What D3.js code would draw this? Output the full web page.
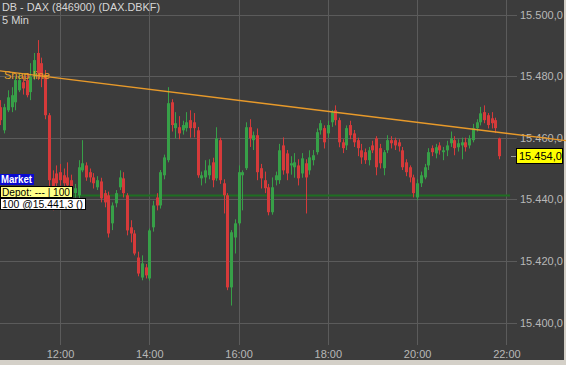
<!DOCTYPE html>
<html>
<head>
<meta charset="utf-8">
<script src="https://cdn.jsdelivr.net/npm/d3@7"></script>
<style>
  body { margin: 0; background: #d4d0c8; }
  svg { display: block; }
</style>
</head>
<body>
<div id="chart"></div>
<script>
const title = 'DB - DAX (846900) (DAX.DBKF)';
const interval = '5 Min';
const firstBar = '10:40';          // 5 minute bars
const barMinutes = 5;

const opens = [15469.9, 15462.4, 15468.9, 15469.9, 15471.5, 15475.4, 15478.0, 15478.7, 15474.8, 15479.7,
  15487.5, 15484.2, 15480.3, 15467.3, 15446.8, 15448.4, 15448.8, 15447.8, 15447.1, 15446.2,
  15442.0, 15441.3, 15449.4, 15451.0, 15448.8, 15447.1, 15443.9, 15445.8, 15442.0, 15441.3,
  15432.2, 15438.7, 15443.9, 15446.8, 15441.3, 15430.9, 15428.9, 15421.1, 15414.6, 15417.9,
  15414.3, 15430.9, 15440.6, 15438.0, 15447.8, 15452.7, 15471.5, 15463.1, 15463.4, 15462.4,
  15463.1, 15465.7, 15465.0, 15462.4, 15446.8, 15447.1, 15447.8, 15452.0, 15446.8, 15459.2,
  15445.2, 15441.3, 15411.4, 15427.6, 15432.2, 15447.8, 15450.1, 15463.4, 15459.2, 15460.8,
  15450.1, 15446.2, 15443.9, 15435.8, 15446.2, 15446.2, 15457.5, 15454.9, 15451.0, 15450.4,
  15451.0, 15448.4, 15451.7, 15449.4, 15452.7, 15455.3, 15462.4, 15463.1, 15461.4, 15465.0,
  15468.9, 15465.7, 15458.5, 15457.5, 15464.1, 15461.4, 15459.2, 15455.9, 15455.3, 15452.7,
  15457.5, 15459.8, 15456.6, 15450.1, 15455.9, 15459.2, 15459.2, 15458.5, 15455.9, 15452.0,
  15450.4, 15447.1, 15440.6, 15445.2, 15447.1, 15451.0, 15456.6, 15454.9, 15457.5, 15455.3,
  15455.9, 15458.2, 15459.2, 15456.9, 15457.5, 15458.5, 15457.5, 15459.2, 15463.1, 15465.0,
  15468.3, 15467.3, 15466.3, 15465.7, 15459.8];
const highs = [15472.2, 15471.0, 15475.4, 15476.4, 15479.7, 15481.0, 15480.0, 15481.0, 15484.2, 15487.5,
  15491.7, 15486.0, 15482.0, 15468.0, 15449.4, 15451.0, 15451.5, 15450.0, 15452.0, 15448.0,
  15445.0, 15452.7, 15459.2, 15452.0, 15450.0, 15448.5, 15447.5, 15447.0, 15443.0, 15442.5,
  15439.0, 15443.0, 15449.4, 15448.8, 15442.0, 15433.2, 15430.0, 15423.0, 15421.8, 15419.0,
  15430.5, 15439.5, 15442.0, 15449.5, 15454.5, 15476.4, 15472.5, 15468.3, 15467.0, 15465.5,
  15468.3, 15468.9, 15468.0, 15463.5, 15449.0, 15452.7, 15453.0, 15453.5, 15463.4, 15460.0,
  15446.5, 15442.0, 15430.0, 15433.5, 15451.0, 15449.4, 15465.0, 15466.0, 15462.0, 15463.0,
  15451.5, 15449.0, 15445.0, 15447.1, 15449.0, 15458.0, 15460.1, 15456.0, 15454.0, 15455.0,
  15453.0, 15455.0, 15453.0, 15455.9, 15456.0, 15463.0, 15465.7, 15464.0, 15465.5, 15469.0,
  15470.5, 15466.5, 15459.5, 15464.0, 15465.5, 15462.5, 15460.0, 15458.0, 15456.5, 15457.0,
  15459.0, 15460.5, 15458.0, 15456.0, 15460.8, 15460.5, 15460.0, 15459.5, 15457.0, 15453.0,
  15451.0, 15448.0, 15446.5, 15449.0, 15451.5, 15456.6, 15457.5, 15458.0, 15458.5, 15457.0,
  15459.0, 15462.0, 15460.5, 15459.5, 15460.0, 15460.0, 15460.8, 15464.5, 15466.0, 15470.0,
  15470.5, 15468.0, 15468.3, 15466.5, 15460.0];
const lows = [15464.1, 15461.4, 15468.3, 15468.3, 15468.9, 15474.8, 15474.0, 15473.1, 15472.2, 15478.7,
  15478.7, 15476.4, 15466.0, 15444.0, 15436.4, 15442.9, 15444.5, 15443.9, 15443.0, 15439.7,
  15440.5, 15440.3, 15448.8, 15446.0, 15445.5, 15443.5, 15443.0, 15439.0, 15437.4, 15427.6,
  15430.0, 15437.4, 15443.0, 15440.6, 15428.3, 15426.0, 15421.8, 15415.0, 15413.7, 15414.3,
  15413.6, 15429.5, 15436.4, 15437.0, 15446.5, 15452.0, 15462.0, 15459.8, 15459.5, 15461.0,
  15462.0, 15460.0, 15460.1, 15447.0, 15444.5, 15445.2, 15446.5, 15443.9, 15446.0, 15445.0,
  15435.4, 15410.5, 15405.5, 15422.4, 15431.5, 15436.4, 15449.5, 15457.0, 15456.0, 15446.2,
  15443.5, 15442.0, 15434.8, 15435.0, 15444.5, 15445.0, 15448.0, 15446.2, 15448.0, 15447.0,
  15444.5, 15447.0, 15435.4, 15448.0, 15451.0, 15454.5, 15461.0, 15456.5, 15460.0, 15463.5,
  15464.0, 15456.9, 15455.0, 15456.0, 15459.5, 15457.0, 15454.0, 15451.5, 15451.5, 15451.0,
  15455.0, 15447.8, 15450.0, 15447.8, 15455.0, 15456.5, 15456.0, 15455.5, 15449.5, 15447.5,
  15445.5, 15440.6, 15439.7, 15444.0, 15446.5, 15449.5, 15454.0, 15453.3, 15454.5, 15452.7,
  15454.0, 15457.0, 15454.3, 15455.5, 15453.0, 15455.5, 15456.5, 15458.5, 15462.0, 15464.0,
  15464.7, 15463.0, 15463.0, 15461.5, 15453.0];
const closes = [15465.7, 15469.9, 15473.1, 15473.8, 15478.7, 15478.7, 15476.0, 15473.8, 15479.7, 15485.2,
  15481.0, 15479.7, 15467.3, 15446.2, 15439.7, 15445.2, 15446.2, 15445.2, 15444.5, 15442.0,
  15443.6, 15450.4, 15451.7, 15447.1, 15447.1, 15445.2, 15446.2, 15440.3, 15439.0, 15428.9,
  15438.0, 15442.0, 15447.1, 15442.0, 15429.9, 15428.9, 15422.4, 15415.9, 15419.2, 15415.3,
  15429.9, 15438.0, 15438.0, 15448.8, 15453.6, 15471.2, 15464.1, 15464.7, 15461.4, 15464.1,
  15465.0, 15463.1, 15463.1, 15447.8, 15447.8, 15449.4, 15451.0, 15446.2, 15459.8, 15446.2,
  15441.3, 15411.4, 15429.3, 15432.2, 15448.8, 15448.8, 15463.4, 15459.8, 15460.8, 15448.8,
  15446.8, 15443.6, 15435.8, 15443.9, 15447.8, 15455.9, 15449.4, 15448.4, 15451.7, 15452.0,
  15446.8, 15453.3, 15447.1, 15453.6, 15454.3, 15461.8, 15464.7, 15458.5, 15464.1, 15468.3,
  15465.7, 15458.5, 15456.6, 15463.1, 15460.8, 15458.5, 15456.6, 15453.6, 15452.7, 15455.9,
  15455.9, 15450.4, 15451.7, 15455.3, 15459.2, 15458.2, 15457.5, 15457.2, 15450.4, 15448.8,
  15447.1, 15442.0, 15445.2, 15447.8, 15450.4, 15455.3, 15455.3, 15456.9, 15455.9, 15455.9,
  15457.5, 15459.8, 15456.6, 15458.2, 15458.5, 15456.9, 15459.8, 15463.1, 15465.0, 15467.9,
  15465.7, 15464.1, 15464.7, 15463.1, 15454.0];

const priceTicks = [15400, 15420, 15440, 15460, 15480, 15500];
const timeTicks = ['12:00', '14:00', '16:00', '18:00', '20:00', '22:00'];
const lastPrice = 15454.0;
const entryPrice = 15441.3;
const positionSize = 100;
// snap line: two anchor points (time, price)
const snapTimes = ['10:35', '23:25'];
const snapPrices = [15481.8, 15458.9];

const width = 566;
const height = 365;
const plotRight = 564;
const plotBottom = 360;
const gridRight = 517;
const axisY = 345;

const bg = '#3c3c3c';
const gridColor = '#5b5b5b';
const textColor = '#b8b8b8';
const upColor = '#37a048';
const downColor = '#d63a3a';

const parseTime = d3.timeParse('%H:%M');
const de = d3.formatLocale({ decimal: ',', thousands: '.', grouping: [3], currency: ['', ' €'] });
const fmtPrice = de.format(',.1f');

const t0 = parseTime(firstBar);
const bars = opens.map((o, i) => ({
    time: d3.timeMinute.offset(t0, i * barMinutes),
    open: o, high: highs[i], low: lows[i], close: closes[i]
}));

const xScale = d3.scaleTime()
    .domain([parseTime('12:00'), parseTime('22:00')])
    .range([60, 506.4]);
const yScale = d3.scaleLinear()
    .domain([15400, 15500])
    .range([322.5, 14.5]);

const svg = d3.select('#chart').append('svg')
    .attr('width', width)
    .attr('height', height)
    .style('font-family', 'Arial, "Liberation Sans", sans-serif');

svg.append('rect').attr('width', width).attr('height', height).attr('fill', '#d4d0c8');
svg.append('rect').attr('width', plotRight).attr('height', plotBottom).attr('fill', bg);

const defs = svg.append('defs');
defs.append('filter').attr('id', 'blur')
    .append('feGaussianBlur').attr('stdDeviation', 1.6);

// vertical grid + time labels
const xAxis = svg.append('g')
    .attr('transform', `translate(0,${axisY})`)
    .call(d3.axisBottom(xScale)
        .tickValues(timeTicks.map(parseTime))
        .tickFormat(d3.timeFormat('%H:%M'))
        .tickSize(-axisY));
xAxis.select('.domain').remove();
xAxis.selectAll('.tick line')
    .attr('stroke', gridColor)
    .attr('shape-rendering', 'crispEdges');
xAxis.selectAll('.tick text')
    .attr('y', 13)
    .attr('dy', 0)
    .attr('fill', textColor)
    .style('font-size', '11px');

// horizontal grid + price labels
const yAxis = svg.append('g')
    .call(d3.axisRight(yScale)
        .tickValues(priceTicks)
        .tickFormat(fmtPrice)
        .tickSize(gridRight)
        .tickPadding(3));
yAxis.select('.domain').remove();
yAxis.selectAll('.tick line')
    .attr('stroke', gridColor)
    .attr('shape-rendering', 'crispEdges');
yAxis.selectAll('.tick text')
    .attr('fill', textColor)
    .style('font-size', '11px');

// green blur at top left
svg.append('line')
    .attr('x1', xScale(parseTime('10:40')))
    .attr('x2', xScale(parseTime('11:05')))
    .attr('y1', yScale(15484.7))
    .attr('y2', yScale(15484.7))
    .attr('stroke', '#2f7d2f')
    .attr('stroke-width', 5)
    .attr('opacity', 0.8)
    .attr('filter', 'url(#blur)');

// position line
svg.append('line')
    .attr('x1', 0)
    .attr('x2', xScale(parseTime('22:05')))
    .attr('y1', Math.round(yScale(entryPrice)) + 0.5)
    .attr('y2', Math.round(yScale(entryPrice)) + 0.5)
    .attr('stroke', '#1f6f22')
    .attr('stroke-width', 2);

// candles
const candles = svg.append('g').selectAll('g')
    .data(bars)
    .join('g');

candles.append('line')
    .attr('x1', d => Math.round(xScale(d.time)) + 0.5)
    .attr('x2', d => Math.round(xScale(d.time)) + 0.5)
    .attr('y1', d => yScale(d.high))
    .attr('y2', d => yScale(d.low))
    .attr('stroke', d => d.close >= d.open ? upColor : downColor);

candles.append('rect')
    .attr('x', d => Math.round(xScale(d.time)) - 1)
    .attr('width', 3)
    .attr('y', d => yScale(Math.max(d.open, d.close)))
    .attr('height', d => Math.max(1, Math.abs(yScale(d.open) - yScale(d.close))))
    .attr('fill', d => d.close >= d.open ? upColor : downColor);

// snap line
svg.append('line')
    .attr('x1', xScale(parseTime(snapTimes[0])))
    .attr('y1', yScale(snapPrices[0]))
    .attr('x2', xScale(parseTime(snapTimes[1])))
    .attr('y2', yScale(snapPrices[1]))
    .attr('stroke', '#e89a2a')
    .attr('stroke-width', 1.3);

svg.append('text')
    .attr('x', 4)
    .attr('y', 79)
    .attr('fill', '#e8a02a')
    .style('font-size', '11px')
    .text('Snap line');

// title
svg.append('text')
    .attr('x', 2)
    .attr('y', 11)
    .attr('fill', '#d6d6d6')
    .style('font-size', '11px')
    .attr('textLength', 158)
    .attr('lengthAdjust', 'spacingAndGlyphs')
    .text(title);
svg.append('text')
    .attr('x', 2)
    .attr('y', 24)
    .attr('fill', '#d6d6d6')
    .style('font-size', '11px')
    .text(interval);

// last price marker
const ly = Math.round(yScale(lastPrice));
svg.append('line')
    .attr('x1', 511).attr('x2', 516)
    .attr('y1', ly + 0.5).attr('y2', ly + 0.5)
    .attr('stroke', '#999');
svg.append('rect')
    .attr('x', 516.5).attr('y', ly - 7.5)
    .attr('width', 46).attr('height', 15)
    .attr('fill', '#ffff00')
    .attr('stroke', '#000');
svg.append('text')
    .attr('x', 519).attr('y', ly + 4)
    .attr('fill', '#000')
    .style('font-size', '11px')
    .text(fmtPrice(lastPrice));

// order / position labels
const labels = svg.append('g').style('font-size', '11px');
labels.append('rect')
    .attr('x', 0).attr('y', 174).attr('width', 34).attr('height', 11)
    .attr('fill', '#0a0ad0');
labels.append('text')
    .attr('x', 1).attr('y', 183)
    .attr('fill', '#fff')
    .style('font-weight', 'bold')
    .attr('textLength', 31)
    .attr('lengthAdjust', 'spacingAndGlyphs')
    .text('Market');
labels.append('rect')
    .attr('x', 0.5).attr('y', 186.5).attr('width', 72).attr('height', 11)
    .attr('fill', '#ffff88')
    .attr('stroke', '#000');
labels.append('text')
    .attr('x', 2).attr('y', 196)
    .attr('fill', '#000')
    .attr('textLength', 68)
    .attr('lengthAdjust', 'spacingAndGlyphs')
    .text(`Depot: --- | ${positionSize}`);
labels.append('rect')
    .attr('x', 0.5).attr('y', 198.5).attr('width', 85).attr('height', 11)
    .attr('fill', '#ffffff')
    .attr('stroke', '#000');
labels.append('text')
    .attr('x', 2).attr('y', 208)
    .attr('fill', '#000')
    .attr('textLength', 81)
    .attr('lengthAdjust', 'spacingAndGlyphs')
    .text(`${positionSize} @${fmtPrice(entryPrice)} ()`);
</script>
</body>
</html>
